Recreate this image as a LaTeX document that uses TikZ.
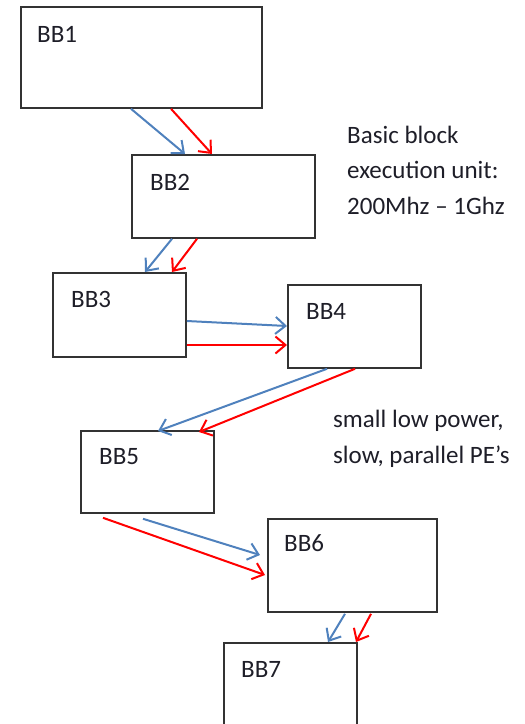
\documentclass[tikz,border=0pt]{standalone}
\usepackage{fontspec}
\setmainfont{Carlito}
\usetikzlibrary{arrows.meta,calc}
\definecolor{bblue}{RGB}{79,129,189}
\definecolor{bred}{RGB}{255,0,0}
\definecolor{txt}{RGB}{30,30,40}
\tikzset{
  bb/.style={draw=black!80, line width=1.8pt, anchor=north west, inner sep=0pt},
  bbl/.style={anchor=base west, font=\fontsize{25}{29}\selectfont, inner sep=0pt, text=txt},
  ba/.style={line width=2pt, draw=bblue, -{Straight Barb[length=10pt,width=17pt,line width=2pt]}},
  ra/.style={line width=2pt, draw=bred, -{Straight Barb[length=10pt,width=17pt,line width=2pt]}},
  note/.style={anchor=base west, align=left, font=\fontsize{25}{35.5}\selectfont, inner sep=0pt, text=txt}
}
\begin{document}
\begin{tikzpicture}[x=1pt,y=-1pt]
\useasboundingbox (0,0) rectangle (525,724);
\node[bb, minimum width=241pt, minimum height=101pt] (b1) at (20,6) {};
\node[bb, minimum width=183pt, minimum height=83pt] (b2) at (131,154) {};
\node[bb, minimum width=133pt, minimum height=84pt] (b3) at (52,272) {};
\node[bb, minimum width=133pt, minimum height=83pt] (b4) at (287,284) {};
\node[bb, minimum width=133pt, minimum height=82pt] (b5) at (80,430) {};
\node[bb, minimum width=169pt, minimum height=93pt] (b6) at (267,518) {};
\node[bb, minimum width=133pt, minimum height=90pt] (b7) at (223,642) {};
\node[bbl] (l1) at (37,42) {BB1};
\node[bbl] (l2) at (150,190) {BB2};
\node[bbl] (l3) at (71,307) {BB3};
\node[bbl] (l4) at (306,319) {BB4};
\node[bbl] (l5) at (99,464) {BB5};
\node[bbl] (l6) at (284,551) {BB6};
\node[bbl] (l7) at (241,677) {BB7};
\node[note] (n1) at (347,214) {Basic block\\execution unit:\\200Mhz – 1Ghz};
\node[note] (n2) at (333,463) {small low power,\\slow, parallel PE’s};
% BB1 -> BB2
\draw[ba] ($(b1.south west)+(111,0)$) -- ($(b2.north west)+(54,0)$);
\draw[ra] ($(b1.south west)+(151,0)$) -- ($(b2.north west)+(81,0)$);
% BB2 -> BB3
\draw[ba] ($(b2.south west)+(41,0)$) -- ($(b3.north west)+(93,0)$);
\draw[ra] ($(b2.south west)+(66,0)$) -- ($(b3.north west)+(120,0)$);
% BB3 -> BB4
\draw[ba] ($(b3.north east)+(0,49)$) -- ($(b4.north west)+(0,42)$);
\draw[ra] ($(b3.north east)+(0,73)$) -- ($(b4.north west)+(0,61)$);
% BB4 -> BB5
\draw[ba] ($(b4.south west)+(40,0)$) -- ($(b5.north west)+(78,1)$);
\draw[ra] ($(b4.south west)+(68,0)$) -- ($(b5.north west)+(119,2)$);
% BB5 -> BB6
\draw[ba] ($(b5.south west)+(63,5)$) -- ($(b6.north west)+(-7,37)$);
\draw[ra] ($(b5.south west)+(23,4)$) -- ($(b6.north west)+(-2,57)$);
% BB6 -> BB7
\draw[ba] ($(b6.south west)+(78,1)$) -- ($(b7.north west)+(105,0)$);
\draw[ra] ($(b6.south west)+(104,1)$) -- ($(b7.north west)+(133,0)$);
\end{tikzpicture}
\end{document}
